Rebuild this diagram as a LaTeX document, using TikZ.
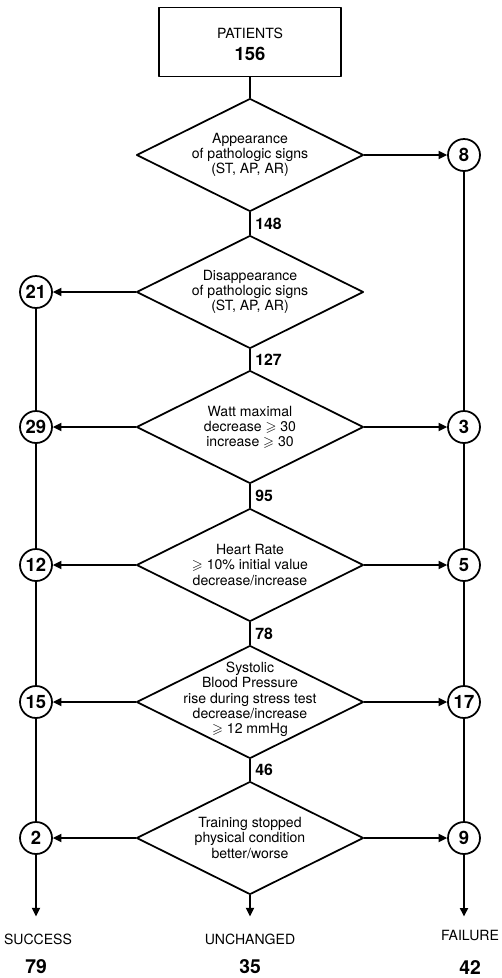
\documentclass[tikz,border=0pt]{standalone}
\usepackage{amssymb}
\usepackage{fontspec}
\setmainfont{TeX Gyre Heros}
\usetikzlibrary{arrows.meta,shapes.geometric}

\begin{document}
\begin{tikzpicture}[
  x=0.02cm,
  y=-0.02cm,
  line join=round,
  line width=1pt,
  test/.style={draw,diamond,minimum width=4.54cm,minimum height=2.26cm,inner sep=0pt},
  question/.style={align=center,font=\fontsize{8}{8.6}\selectfont},
  tally/.style={draw,circle,minimum size=0.64cm,inner sep=0pt,font=\fontsize{10.5}{12}\selectfont\bfseries},
  passed/.style={right,inner sep=2.5pt,font=\fontsize{9}{10}\selectfont\bfseries},
  branch/.style={-{Triangle[length=1.7mm,width=1.6mm]}},
  outcome/.style={font=\fontsize{8}{9}\selectfont},
  total/.style={font=\fontsize{11}{12}\selectfont\bfseries}
]
  \useasboundingbox (0,0) rectangle (501,978);

  % Entry box
  \node[draw,minimum width=3.64cm,minimum height=1.38cm] (pat) at (250,42) {};
  \node[outcome] (patTitle) at (250,33) {PATIENTS};
  \node[font=\fontsize{10.5}{12}\selectfont\bfseries] (patCount) at (250,54) {156};

  % Successive tests along the middle column
  \node[test] (d1) at (250,155) {};
  \node[test] (d2) at (250,292) {};
  \node[test] (d3) at (250,427) {};
  \node[test] (d4) at (250,565) {};
  \node[test] (d5) at (250,702) {};
  \node[test] (d6) at (250,838) {};

  \node[question] at (d1) {Appearance\\of pathologic signs\\(ST, AP, AR)};
  \node[question] at (d2) {Disappearance\\of pathologic signs\\(ST, AP, AR)};
  \node[question] at (d3) {Watt maximal\\decrease $\geqslant$ 30\\increase $\geqslant$ 30};
  \node[question] at (d4) {Heart Rate\\$\geqslant$ 10\% initial value\\decrease/increase};
  \node[question] at ([yshift=1.5pt]d5.center) {Systolic\\Blood Pressure\\rise during stress test\\decrease/increase\\$\geqslant$ 12 mmHg};
  \node[question] at (d6) {Training stopped\\physical condition\\better/worse};

  \draw (pat.south) -- (d1.north);
  \foreach \a/\b/\n in {d1/d2/148, d2/d3/127, d3/d4/95, d4/d5/78, d5/d6/46} {
    \draw (\a.south) -- node[passed] {\n} (\b.north);
  }

  % Left column: success counts
  \node[tally] (l2) at (36,292) {21};
  \node[tally] (l3) at (36,427) {29};
  \node[tally] (l4) at (36,565) {12};
  \node[tally] (l5) at (36,702) {15};
  \node[tally] (l6) at (36,838) {2};

  % Right column: failure counts
  \node[tally] (r1) at (464,155) {8};
  \node[tally] (r3) at (464,427) {3};
  \node[tally] (r4) at (464,565) {5};
  \node[tally] (r5) at (464,702) {17};
  \node[tally] (r6) at (464,838) {9};

  \foreach \i in {2,...,6} {
    \draw[branch] (d\i.west) -- (l\i.east);
  }
  \foreach \i in {1,3,4,5,6} {
    \draw[branch] (d\i.east) -- (r\i.west);
  }
  \foreach \a/\b in {l2/l3, l3/l4, l4/l5, l5/l6, r1/r3, r3/r4, r4/r5, r5/r6} {
    \draw (\a.south) -- (\b.north);
  }

  % Outcomes
  \node[outcome] (succ) at (38,939) {SUCCESS};
  \node[outcome] (unch) at (250,939) {UNCHANGED};
  \node[outcome] (fail) at (470,935) {FAILURE};
  \node[total] (succN) at (36,967) {79};
  \node[total] (unchN) at (250,967) {35};
  \node[total] (failN) at (470,967) {42};

  \draw[branch,shorten >=2.1mm] (l6.south) -- (l6.south |- succ.north);
  \draw[branch,shorten >=2.1mm] (d6.south) -- (d6.south |- unch.north);
  \draw[branch,shorten >=1.3mm] (r6.south) -- (r6.south |- fail.north);
\end{tikzpicture}
\end{document}
